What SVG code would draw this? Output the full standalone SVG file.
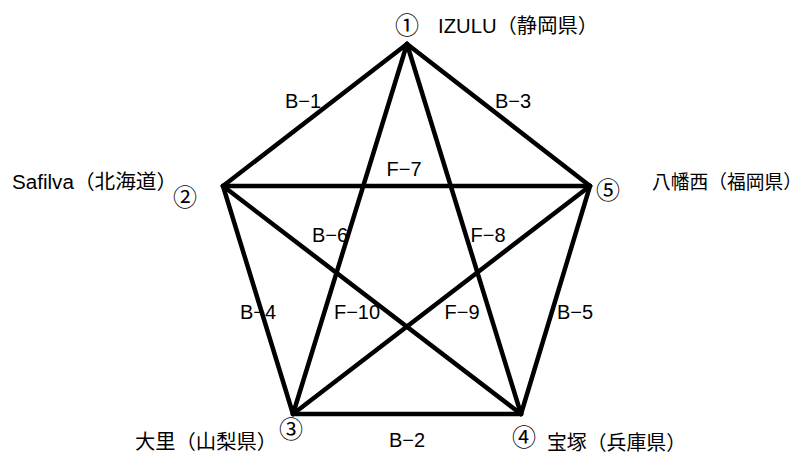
<svg xmlns="http://www.w3.org/2000/svg" width="810" height="454" viewBox="0 0 810 454">
<style>
text{font-family:"Liberation Sans","Noto Sans CJK JP",sans-serif;font-size:20px;fill:#000}
.m{text-anchor:middle}
.n{font-size:20px}
.c{font-family:"Noto Sans CJK JP",sans-serif;font-size:24px;text-anchor:middle}
.e{stroke:#000;stroke-width:4.5;stroke-linecap:round;fill:none}
</style>
<rect width="810" height="454" fill="#fff"/>
<g id="connectors">
<line class="e" x1="407" y1="44" x2="223" y2="186"/>
<line class="e" x1="407" y1="44" x2="590" y2="186"/>
<line class="e" x1="223" y1="186" x2="293" y2="414"/>
<line class="e" x1="590" y1="186" x2="521" y2="414"/>
<line class="e" x1="293" y1="414" x2="521" y2="414"/>
<line class="e" x1="223" y1="186" x2="590" y2="186"/>
<line class="e" x1="407" y1="44" x2="293" y2="414"/>
<line class="e" x1="407" y1="44" x2="521" y2="414"/>
<line class="e" x1="223" y1="186" x2="521" y2="414"/>
<line class="e" x1="590" y1="186" x2="293" y2="414"/>
<text class="m" x="303" y="108">B−1</text>
<text class="m" x="513" y="108">B−3</text>
<text class="m" x="404" y="176">F−7</text>
<text class="m" x="330" y="242">B−6</text>
<text class="m" x="488" y="242">F−8</text>
<text class="m" x="357" y="319">F−10</text>
<text class="m" x="462" y="319">F−9</text>
<text class="m" x="258" y="319">B−4</text>
<text class="m" x="575" y="319">B−5</text>
<text class="m" x="407" y="447">B−2</text>
</g>
<g id="node1"><text class="c" x="407" y="34">①</text><text class="n" x="438" y="33" textLength="160" lengthAdjust="spacingAndGlyphs">IZULU（静岡県）</text></g>
<g id="node2"><text class="c" x="185" y="206">②</text><text class="n" x="12" y="189" textLength="165" lengthAdjust="spacingAndGlyphs">Safilva（北海道）</text></g>
<g id="node3"><text class="c" x="291" y="438">③</text><text class="n" x="135" y="449" textLength="142" lengthAdjust="spacingAndGlyphs">大里（山梨県）</text></g>
<g id="node4"><text class="c" x="524" y="446">④</text><text class="n" x="547" y="450" textLength="139" lengthAdjust="spacingAndGlyphs">宝塚（兵庫県）</text></g>
<g id="node5"><text class="c" x="608" y="199">⑤</text><text x="652" y="189" style="font-size:19px" textLength="150" lengthAdjust="spacingAndGlyphs">八幡西（福岡県）</text></g>
</svg>
